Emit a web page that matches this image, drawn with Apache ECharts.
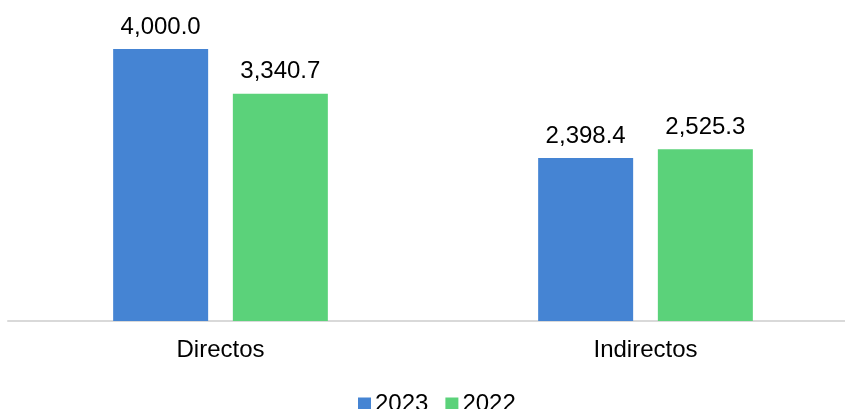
<!DOCTYPE html>
<html><head><meta charset="utf-8">
<script src="https://cdn.jsdelivr.net/npm/echarts@6/dist/echarts.min.js"></script>
<style>html,body{margin:0;padding:0;background:#fff;overflow:hidden;width:845px;height:409px}#c{width:858px;height:409px}</style>
</head><body><div id="c"></div>
<script>
const categories = ["Directos", "Indirectos"];
const values2023 = [4000.0, 2398.4];
const values2022 = [3340.7, 2525.3];
const seriesNames = ["2023", "2022"];

const fontFamily = "Liberation Sans, Arial, sans-serif";
const fmt = v => v.value.toLocaleString('en-US', {minimumFractionDigits: 1, maximumFractionDigits: 1});
const chart = echarts.init(document.getElementById('c'), null, {renderer: 'canvas'});
const labelCfg = {show: true, position: 'top', distance: 10, color: '#000', fontSize: 24, fontFamily, formatter: fmt};
chart.setOption({
  animation: false,
  grid: {left: 8, right: 0, top: 49, bottom: 88},
  legend: {
    data: seriesNames, bottom: -12, left: 353, itemWidth: 13, itemHeight: 13, itemGap: 17,
    icon: 'rect', textStyle: {fontSize: 24, fontFamily, color: '#000', padding: [0,0,0,-1]}
  },
  xAxis: {
    type: 'category', data: categories,
    axisLine: {lineStyle: {color: '#d9d9d9', width: 2}},
    axisTick: {show: false},
    axisLabel: {fontSize: 24, fontFamily, color: '#000', margin: 17}
  },
  yAxis: {type: 'value', min: 0, max: 4000, show: false, splitLine: {show: false}},
  series: [
    {name: seriesNames[0], type: 'bar', data: values2023, barWidth: 95, barGap: '26%', itemStyle: {color: '#4584D3'}, label: labelCfg},
    {name: seriesNames[1], type: 'bar', data: values2022, barWidth: 95, itemStyle: {color: '#5BD27A'}, label: labelCfg}
  ]
});
</script></body></html>
